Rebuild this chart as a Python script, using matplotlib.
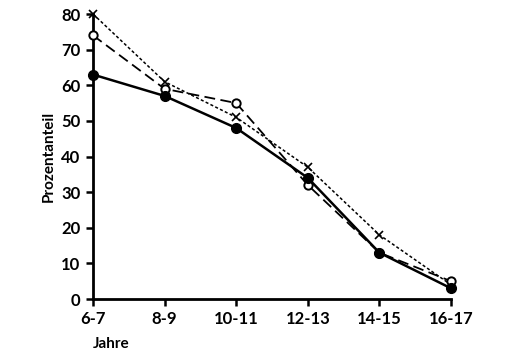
import matplotlib.pyplot as plt

# Data
groups = ['6-7', '8-9', '10-11', '12-13', '14-15', '16-17']
solid_vals = [63, 57, 48, 34, 13, 3]
dashed_vals = [74, 59, 55, 32, 13, 5]
dotted_vals = [80, 61, 51, 37, 18, 4]
y_ticks = [0, 10, 20, 30, 40, 50, 60, 70, 80]

plt.rcParams['font.family'] = ['Lato', 'DejaVu Sans']

fig = plt.figure(figsize=(5.24, 3.6), dpi=100)
ax = fig.add_axes([93 / 524, 61 / 360, 358 / 524, 285 / 360])

x = list(range(len(groups)))
ax.plot(x, dotted_vals, linestyle=(0, (2, 1.5)), color='black', lw=1.1,
        marker='x', ms=6, mew=1.2, clip_on=False, zorder=3)
ax.plot(x, dashed_vals, linestyle=(0, (6, 3)), color='black', lw=1.3,
        marker='o', ms=6, mfc='white', mec='black', mew=1.4, clip_on=False, zorder=4)
ax.plot(x, solid_vals, linestyle='-', color='black', lw=1.8,
        marker='o', ms=7, mfc='black', clip_on=False, zorder=5)

ax.set_xlim(0, len(groups) - 1)
ax.set_ylim(0, 80)
ax.set_xticks(x)
ax.set_xticklabels(groups, fontsize=12, fontweight='bold')
ax.set_yticks(y_ticks)
ax.set_yticklabels([str(v) for v in y_ticks], fontsize=12, fontweight='bold')

for side in ['top', 'right']:
    ax.spines[side].set_visible(False)
for side in ['left', 'bottom']:
    ax.spines[side].set_linewidth(2)

ax.tick_params(axis='both', length=5, width=1.8, pad=4)
ax.set_ylabel('Prozentanteil', fontsize=11, fontweight='bold', labelpad=4)
ax.text(0.0, -0.135, 'Jahre', transform=ax.transAxes, fontsize=11,
        fontweight='bold', ha='left', va='top')

fig.savefig('out.png', dpi=100)
